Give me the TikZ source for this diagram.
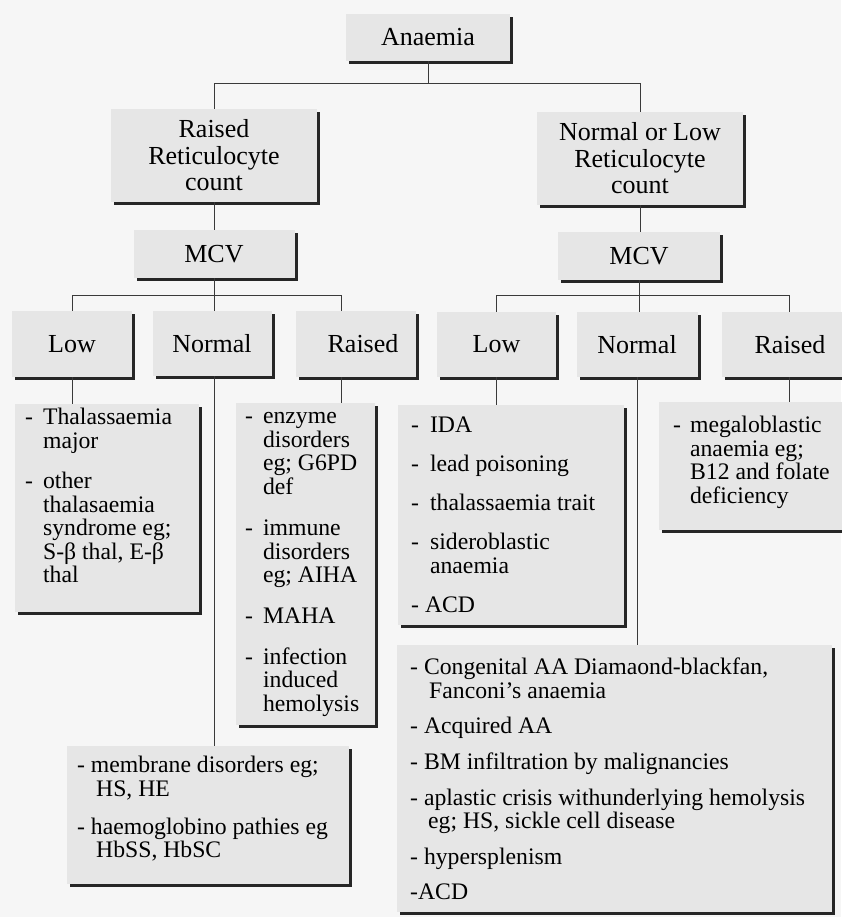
\documentclass[tikz,border=0pt]{standalone}
\usepackage{fontspec}
\setmainfont{Liberation Serif}
\usetikzlibrary{shadows}

\definecolor{boxc}{HTML}{E6E6E6}
\definecolor{bgc}{HTML}{F6F6F6}
\definecolor{lnc}{HTML}{3A3A3A}

% list box: width, height, left pad, top pad, text
\newcommand{\lbox}[5]{\parbox[t][#2pt][t]{#1pt}{\vspace*{#4pt}\hspace*{#3pt}#5}}

\tikzset{
  shd/.style={drop shadow={shadow xshift=3pt, shadow yshift=-3pt, fill=black!85, opacity=1}},
  hd/.style={shd, fill=boxc, inner sep=0pt, align=center, font=\fontsize{26}{26.5}\selectfont},
  lst/.style={shd, fill=boxc, inner sep=0pt, anchor=north west, font=\fontsize{23.7}{23.5}\selectfont},
  ln/.style={draw=lnc, line width=0.8pt}
}

\begin{document}
\begin{tikzpicture}[x=1pt, y=1pt]
				\fill[bgc] (0,0) rectangle (841,917);
				\useasboundingbox (0,0) rectangle (841,917);
				%Top
				\node[hd, minimum width=164pt, minimum height=47pt] (an) at (428,879.5) {Anaemia};
				\node[hd, minimum width=206pt, minimum height=93pt] (rr) at (214,761.5) {Raised\\Reticulocyte\\count};
				\node[hd, minimum width=206pt, minimum height=93pt] (nr) at (640,758.5) {Normal or Low\\Reticulocyte\\count};
				\node[hd, minimum width=161pt, minimum height=48pt] (mcvL) at (214,663) {MCV};
				\node[hd, minimum width=162pt, minimum height=48pt] (mcvR) at (639,661) {MCV};
				%MCV left
				\node[hd, minimum width=120pt, minimum height=66pt] (lowL) at (72,573) {Low};
				\node[hd, minimum width=119pt, minimum height=65pt] (normL) at (212,573.5) {Normal};
				\node[hd, minimum width=120pt, minimum height=66pt] (raisL) at (356,573) {\hspace*{14pt}Raised};
				%MCV right
				\node[hd, minimum width=119pt, minimum height=65pt] (lowR) at (496.5,572.5) {Low};
				\node[hd, minimum width=121pt, minimum height=65pt] (normR) at (637,572.5) {Normal};
				\node[hd, minimum width=120pt, minimum height=65pt] (raisR) at (782,572.5) {\hspace*{16pt}Raised};
				%Lists
				\node[lst] (thal) at (15,513) {\lbox{184}{208}{10}{4}{\begin{tabular}[t]{@{}l@{\hspace{10pt}}l@{}}
					-&Thalassaemia\\
					 &major\\[17pt]
					-&other\\
					 &thalasaemia\\
					 &syndrome eg;\\
					 &S-β thal, E-β\\
					 &thal
				\end{tabular}}};
				\node[lst] (enz) at (236,514) {\lbox{139}{322}{9}{4}{\begin{tabular}[t]{@{}l@{\hspace{10pt}}l@{}}
					-&enzyme\\
					 &disorders\\
					 &eg; G6PD\\
					 &def\\[18pt]
					-&immune\\
					 &disorders\\
					 &eg; AIHA\\[17pt]
					-&MAHA\\[17pt]
					-&infection\\
					 &induced\\
					 &hemolysis
				\end{tabular}}};
				\node[lst] (memb) at (67,171) {\lbox{282}{138}{10}{10}{\begin{tabular}[t]{@{}l@{}}
					- membrane disorders eg;\\
					\hspace*{19pt}HS, HE\\[14.5pt]
					- haemoglobino pathies eg\\
					\hspace*{19pt}HbSS, HbSC
				\end{tabular}}};
				\node[lst] (ida) at (398,512) {\lbox{226}{220}{13}{11}{\begin{tabular}[t]{@{}l@{\hspace{11pt}}l@{}}
					-&IDA\\[15.5pt]
					-&lead poisoning\\[15.5pt]
					-&thalassaemia trait\\[15.5pt]
					-&sideroblastic\\
					 &anaemia\\[15.5pt]
					\multicolumn{2}{@{}l@{}}{- ACD}
				\end{tabular}}};
				\node[lst] (meg) at (659,515) {\lbox{190}{128}{14}{14}{\begin{tabular}[t]{@{}l@{\hspace{9pt}}l@{}}
					-&megaloblastic\\
					 &anaemia eg;\\
					 &B12 and folate\\
					 &deficiency
				\end{tabular}}};
				\node[lst] (big) at (397,272) {\lbox{435}{267}{13}{13}{\begin{tabular}[t]{@{}l@{}}
					- Congenital AA Diamaond-blackfan,\\
					\hspace*{19pt}Fanconi’s anaemia\\[12pt]
					- Acquired AA\\[12pt]
					- BM infiltration by malignancies\\[12pt]
					- aplastic crisis withunderlying hemolysis\\
					\hspace*{18pt}eg; HS, sickle cell disease\\[12pt]
					- hypersplenism\\[12pt]
					-ACD
				\end{tabular}}};
				%Lines
				\draw[ln] (an.south) -- ++(0,-22) -| (rr.north);
				\draw[ln] (an.south) -- ++(0,-22) -| (nr.north);
				\draw[ln] (rr.south) -- (mcvL.north);
				\draw[ln] (nr.south) -- (nr.south |- mcvR.north);
				\draw[ln] (mcvL.south) -- ++(0,-17) -| (lowL.north);
				\draw[ln] (mcvL.south) -- ++(0,-17) -| ([xshift=-15pt]raisL.north);
				\draw[ln] (mcvL.south) -- (mcvL.south |- normL.north);
				\draw[ln] (mcvR.south) -- ++(0,-15) -| (lowR.north);
				\draw[ln] (mcvR.south) -- ++(0,-15) -| ([xshift=7pt]raisR.north);
				\draw[ln] (mcvR.south) -- (mcvR.south |- normR.north);
				\draw[ln] (lowL.south) -- (lowL.south |- thal.north);
				\draw[ln] (mcvL.south |- normL.south) -- (mcvL.south |- memb.north);
				\draw[ln] ([xshift=-15pt]raisL.south) -- ([xshift=-15pt]raisL.south |- enz.north);
				\draw[ln] (lowR.south) -- (lowR.south |- ida.north);
				\draw[ln] (normR.south) -- (normR.south |- big.north);
				\draw[ln] ([xshift=7pt]raisR.south) -- ([xshift=7pt]raisR.south |- meg.north);
\end{tikzpicture}
\end{document}
